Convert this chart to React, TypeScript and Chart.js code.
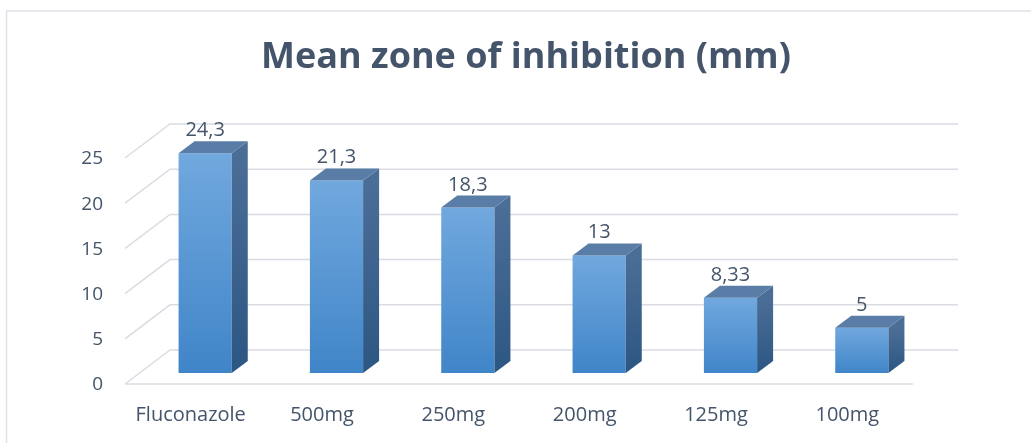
import React, { useEffect, useRef } from "react";
import { Chart, registerables } from "chart.js";

Chart.register(...registerables);

// Mean inhibition zone (mm) per treatment
const categories = ["Fluconazole", "500mg", "250mg", "200mg", "125mg", "100mg"];
const zoneMeans = [24.3, 21.3, 18.3, 13, 8.33, 5];
const valueLabels = ["24,3", "21,3", "18,3", "13", "8,33", "5"];
const yTicks = [0, 5, 10, 15, 20, 25];
const titleText = "Mean zone of inhibition (mm)";

// Pseudo-3D geometry (pixels), relative to the bar front plane
const BACK_DX = 30.5;
const BACK_DY = -23;
const FRONT_DX = -14.5;
const FRONT_DY = 11;
const BAR_DX = 16;
const BAR_DY = -12;

const TEXT_COLOR = "#44546a";
const GRID_COLOR = "#d9dce2";
const FONT = "'Open Sans', sans-serif";

const depthPlugin = {
  id: "depth3d",
  beforeDatasetsDraw(chart: any) {
    const { ctx, chartArea, scales } = chart;
    const y = scales.y;
    ctx.save();
    // outer frame
    ctx.strokeStyle = "#dde2e8";
    ctx.lineWidth = 1.5;
    ctx.strokeRect(6.5, 11, 2000, 2000);

    // back wall gridlines and side-wall diagonals
    ctx.strokeStyle = GRID_COLOR;
    ctx.lineWidth = 1.5;
    yTicks.forEach((v) => {
      const py = y.getPixelForValue(v);
      ctx.beginPath();
      ctx.moveTo(chartArea.left + FRONT_DX, py + FRONT_DY);
      ctx.lineTo(chartArea.left + BACK_DX, py + BACK_DY);
      ctx.lineTo(chartArea.right + BACK_DX, py + BACK_DY);
      ctx.stroke();
    });
    // floor front edge
    const p0 = y.getPixelForValue(0);
    ctx.beginPath();
    ctx.moveTo(chartArea.left + FRONT_DX, p0 + FRONT_DY);
    ctx.lineTo(chartArea.right + FRONT_DX, p0 + FRONT_DY);
    ctx.stroke();
    ctx.restore();
  },
  afterDatasetsDraw(chart: any) {
    const { ctx } = chart;
    const meta = chart.getDatasetMeta(0);
    ctx.save();
    meta.data.forEach((bar: any) => {
      const half = bar.width / 2;
      const l = bar.x - half;
      const r = bar.x + half;
      const t = bar.y;
      const b = bar.base;
      // side face
      const side = ctx.createLinearGradient(0, t, 0, b);
      side.addColorStop(0, "#4b6e97");
      side.addColorStop(1, "#2c5683");
      ctx.fillStyle = side;
      ctx.beginPath();
      ctx.moveTo(r, t);
      ctx.lineTo(r + BAR_DX, t + BAR_DY);
      ctx.lineTo(r + BAR_DX, b + BAR_DY);
      ctx.lineTo(r, b);
      ctx.closePath();
      ctx.fill();
      // top face
      ctx.fillStyle = "#597da7";
      ctx.beginPath();
      ctx.moveTo(l, t);
      ctx.lineTo(l + BAR_DX, t + BAR_DY);
      ctx.lineTo(r + BAR_DX, t + BAR_DY);
      ctx.lineTo(r, t);
      ctx.closePath();
      ctx.fill();
    });
    ctx.restore();
  },
  afterDraw(chart: any) {
    const { ctx, chartArea, scales } = chart;
    const y = scales.y;
    const meta = chart.getDatasetMeta(0);
    ctx.save();
    ctx.fillStyle = TEXT_COLOR;

    // title
    ctx.font = `bold 36px ${FONT}`;
    ctx.textAlign = "center";
    ctx.textBaseline = "middle";
    ctx.fillText(titleText, 526, 58);

    // value axis labels
    ctx.font = `19px ${FONT}`;
    ctx.textAlign = "right";
    ctx.textBaseline = "middle";
    yTicks.forEach((v) => {
      const py = y.getPixelForValue(v);
      ctx.fillText(String(v), chartArea.left + FRONT_DX - 22, py + FRONT_DY + 1);
    });

    // category labels
    const p0 = y.getPixelForValue(0);
    ctx.font = `20px ${FONT}`;
    ctx.textAlign = "center";
    meta.data.forEach((bar: any, i: number) => {
      ctx.fillText(categories[i], bar.x + FRONT_DX, p0 + FRONT_DY + 31);
    });

    // data labels
    ctx.font = `20px ${FONT}`;
    ctx.textBaseline = "alphabetic";
    meta.data.forEach((bar: any, i: number) => {
      ctx.fillText(valueLabels[i], bar.x, bar.y - 17);
    });
    ctx.restore();
  },
};

export default function App() {
  const canvasRef = useRef<HTMLCanvasElement | null>(null);

  useEffect(() => {
    const canvas = canvasRef.current;
    if (!canvas) return;
    const chart = new Chart(canvas, {
      type: "bar",
      data: {
        labels: categories,
        datasets: [
          {
            data: zoneMeans,
            barPercentage: 0.405,
            categoryPercentage: 1,
            backgroundColor: (c: any) => {
              const ch = c.chart;
              if (!ch.chartArea || c.raw === undefined) return "#5b9bd5";
              const ys = ch.scales.y;
              const top = ys.getPixelForValue(c.raw);
              const base = ys.getPixelForValue(0);
              const g = ch.ctx.createLinearGradient(0, top, 0, base);
              g.addColorStop(0, "#71a8de");
              g.addColorStop(1, "#4085c8");
              return g;
            },
            borderWidth: 0,
          },
        ],
      },
      options: {
        responsive: false,
        animation: false,
        devicePixelRatio: 1,
        layout: { padding: { left: 139.5, right: 103.5, top: 147, bottom: 70 } },
        plugins: {
          legend: { display: false },
          title: { display: false },
          tooltip: { enabled: false },
        },
        scales: {
          x: { type: "category", display: false, offset: true },
          y: { display: false, min: 0, max: 25 },
        },
      },
      plugins: [depthPlugin],
    });
    return () => chart.destroy();
  }, []);

  return (
    <div style={{ position: "fixed", left: 0, top: 0, width: 1031, height: 443, background: "#fff" }}>
      <canvas ref={canvasRef} width={1031} height={443} style={{ width: 1031, height: 443 }} />
    </div>
  );
}
